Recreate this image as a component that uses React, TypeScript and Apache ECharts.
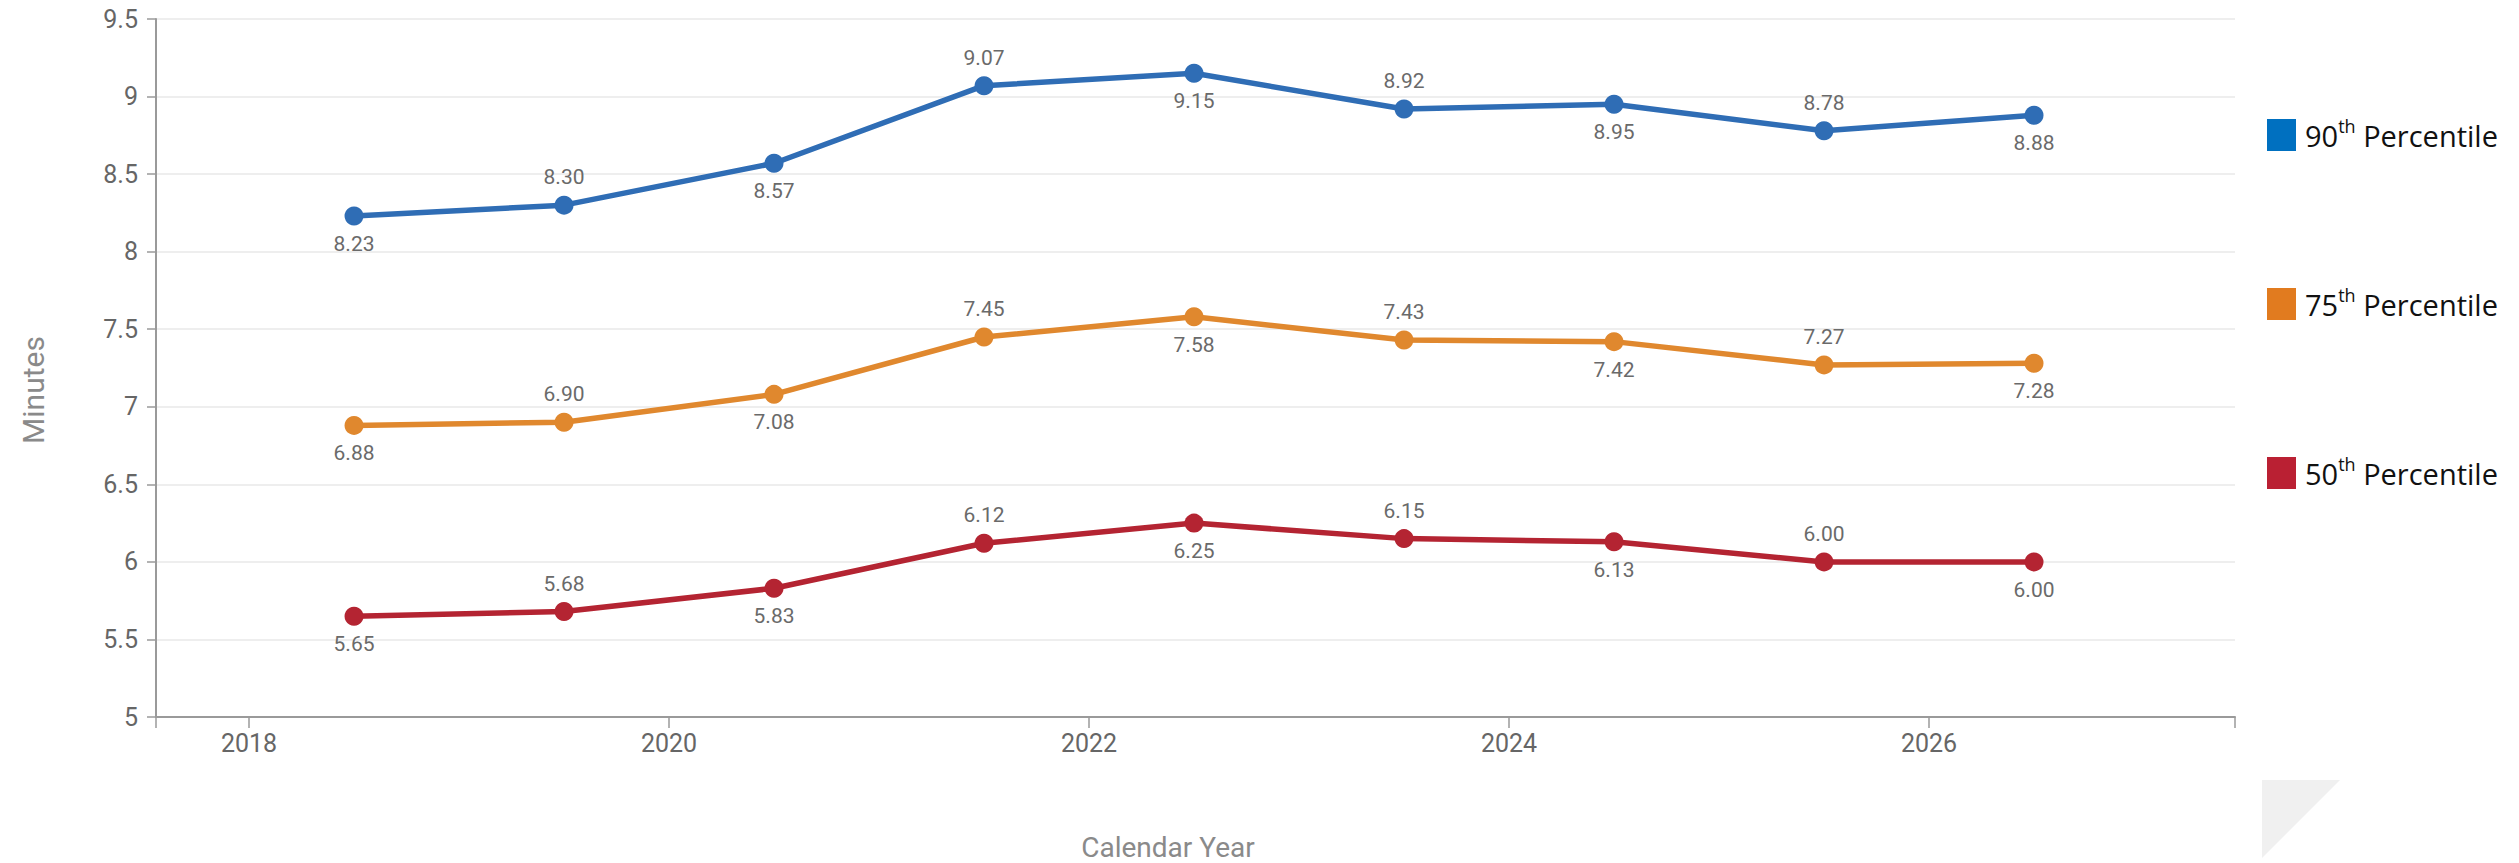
import React, { useEffect, useRef } from "react";
import * as echarts from "echarts";

const years = [2018, 2019, 2020, 2021, 2022, 2023, 2024, 2025, 2026];
const p90 = [8.23, 8.3, 8.57, 9.07, 9.15, 8.92, 8.95, 8.78, 8.88];
const p75 = [6.88, 6.9, 7.08, 7.45, 7.58, 7.43, 7.42, 7.27, 7.28];
const p50 = [5.65, 5.68, 5.83, 6.12, 6.25, 6.15, 6.13, 6.0, 6.0];
const seriesNames = ["90th Percentile", "75th Percentile", "50th Percentile"];
const lineColors = ["#2F6DB5", "#E0882E", "#B42432"];
const legendColors = ["#0070C0", "#E17B1F", "#BA2033"];
const yTicks = { min: 5, max: 9.5, interval: 0.5 };
const xRange = { min: 2017.557, max: 2027.457 };

export default function App() {
  const ref = useRef<HTMLDivElement>(null);
  useEffect(() => {
    document.body.style.margin = "0";
    const chart = echarts.init(ref.current!, undefined, { renderer: "svg" });
    const font = "Roboto, 'Noto Sans', sans-serif";
    const mk = (vals: number[], i: number) => ({
      name: seriesNames[i],
      type: "line",
      data: vals.map((v, k) => ({
        value: [years[k] + 0.5, v],
        label: { position: k % 2 === 0 ? "bottom" : "top" },
      })),
      symbol: "circle",
      symbolSize: 19,
      lineStyle: { width: 5.5, color: lineColors[i] },
      itemStyle: { color: lineColors[i] },
      label: {
        show: true,
        distance: 8,
        color: "#6a6a6a",
        fontSize: 21,
        fontFamily: font,
        formatter: (p: any) => p.value[1].toFixed(2),
      },
    });
    chart.setOption({
      animation: false,
      backgroundColor: "#ffffff",
      grid: { left: 156, top: 19, right: 284, bottom: 146 },
      xAxis: {
        type: "value",
        min: xRange.min,
        max: xRange.max,
        splitNumber: 5,
        axisLine: { lineStyle: { color: "#9a9a9a", width: 2 } },
        axisTick: { show: true, length: 11, lineStyle: { color: "#9a9a9a", width: 1.5 } },
        splitLine: { show: false },
        axisLabel: {
          color: "#666666",
          fontSize: 25,
          fontFamily: font,
          margin: 14,
          formatter: (v: number) => (Number.isInteger(v) ? String(v) : ""),
        },
      },
      yAxis: {
        type: "value",
        min: yTicks.min,
        max: yTicks.max,
        interval: yTicks.interval,
        axisLine: { show: true, lineStyle: { color: "#9a9a9a", width: 2 } },
        axisTick: { show: true, length: 9, lineStyle: { color: "#9a9a9a", width: 1.5 } },
        splitLine: { show: true, lineStyle: { color: "#eeeeee", width: 2 } },
        axisLabel: { color: "#666666", fontSize: 25, fontFamily: font, margin: 18 },
      },
      legend: {
        orient: "vertical",
        left: 2262,
        top: 112,
        itemWidth: 29,
        itemHeight: 32,
        itemGap: 135,
        icon: "rect",
        data: seriesNames.map((n, i) => ({ name: n, icon: "rect", itemStyle: { color: legendColors[i] } })),
        formatter: (name: string) => {
          const num = name.slice(0, 2);
          const rest = name.slice(4);
          return `{n|${num}}{s|th}{n|${rest}}`;
        },
        textStyle: {
          padding: [0, 0, 0, 4],
          rich: {
            n: { fontSize: 29, fontFamily: "'Open Sans', sans-serif", color: "#111111", lineHeight: 36 },
            s: { fontSize: 18, fontFamily: "'Open Sans', sans-serif", color: "#111111", lineHeight: 22, verticalAlign: "top" },
          },
        },
      },
      graphic: [
        {
          type: "text",
          x: 33,
          y: 390,
          rotation: Math.PI / 2,
          style: {
            text: "Minutes",
            fontSize: 30,
            fontFamily: font,
            fill: "#8a8a8a",
            textAlign: "center",
            textVerticalAlign: "middle",
          },
        },
        {
          type: "text",
          x: 1168,
          y: 847,
          style: {
            text: "Calendar Year",
            fontSize: 28,
            fontFamily: font,
            fill: "#8a8a8a",
            textAlign: "center",
            textVerticalAlign: "middle",
          },
        },
        {
          type: "polygon",
          shape: { points: [[2262, 780], [2340, 780], [2262, 858]] },
          style: { fill: "#f0f0f0" },
        },
      ],
      series: [mk(p90, 0), mk(p75, 1), mk(p50, 2)],
    });
    return () => chart.dispose();
  }, []);
  return <div ref={ref} style={{ width: 2519, height: 863 }} />;
}
